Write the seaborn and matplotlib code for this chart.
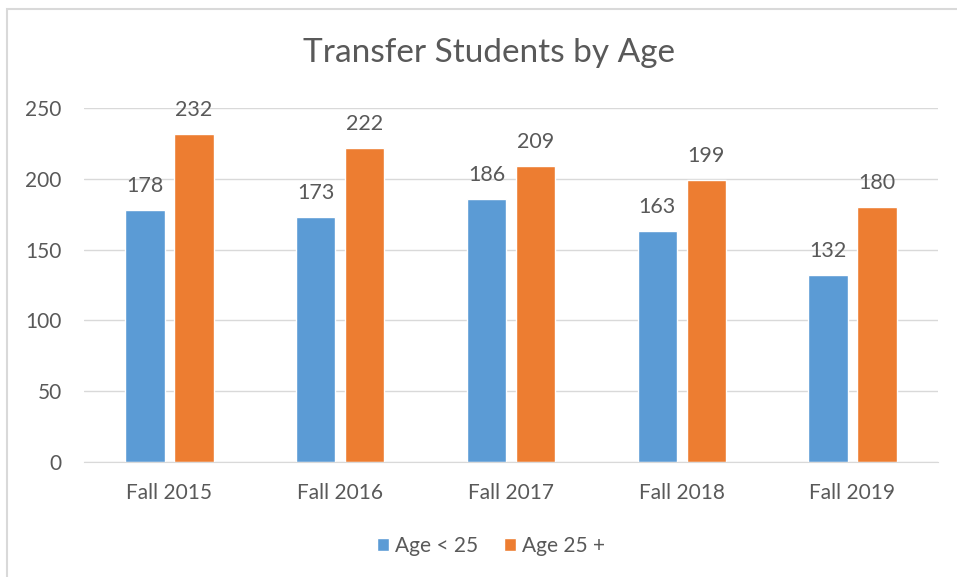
import pandas as pd
import seaborn as sns
import matplotlib.pyplot as plt
from matplotlib.patches import Rectangle

# Chart data
terms = ['Fall 2015', 'Fall 2016', 'Fall 2017', 'Fall 2018', 'Fall 2019']
under_25 = [178, 173, 186, 163, 132]
over_25 = [232, 222, 209, 199, 180]
series = ['Age < 25', 'Age 25 +']
colors = ['#5B9BD5', '#ED7D31']

df = pd.DataFrame({'Term': terms, series[0]: under_25, series[1]: over_25})
df = df.melt(id_vars='Term', var_name='Group', value_name='Count')

sns.set_style('white')
plt.rcParams['font.family'] = ['Lato', 'DejaVu Sans']
text_color = '#595959'
grid_color = '#D9D9D9'

fig = plt.figure(figsize=(9.57, 5.77), dpi=100)
ax = fig.add_axes([0.0878, 0.1993, 0.8922, 0.6135])

sns.barplot(data=df, x='Term', y='Count', hue='Group', palette=colors,
            width=0.574, gap=0.2, ax=ax, legend=True, saturation=1)

# Value labels above bars
for cont in ax.containers:
    ax.bar_label(cont, padding=10, fontsize=15.5, color=text_color)

ax.set_ylim(0, 250)
ax.set_yticks(range(0, 251, 50))
ax.yaxis.grid(True, color=grid_color, linewidth=1)
ax.set_axisbelow(True)
for side in ['top', 'right', 'left']:
    ax.spines[side].set_visible(False)
ax.spines['bottom'].set_color(grid_color)
ax.tick_params(axis='both', length=0, labelsize=15, labelcolor=text_color)
ax.tick_params(axis='y', pad=16)
ax.tick_params(axis='x', pad=15)
ax.set_xlabel('')
ax.set_ylabel('')

ax.set_title('Transfer Students by Age', fontsize=24, color=text_color,
             pad=33, x=0.474)

handles, labels = ax.get_legend_handles_labels()
ax.legend(handles, labels, loc='center', bbox_to_anchor=(0.513, 0.0537),
          bbox_transform=fig.transFigure, ncol=2, frameon=False, fontsize=15,
          handlelength=0.6, handleheight=0.6, handletextpad=0.3,
          columnspacing=1.2, labelcolor=text_color)

# Outer chart border (left and top edges visible)
fig.patches.append(Rectangle((7.5 / 957, -0.1), 1.2, 1.1 - 8.5 / 577,
                             transform=fig.transFigure, fill=False,
                             edgecolor=grid_color, linewidth=1.5))

plt.savefig('out.png', dpi=100)
